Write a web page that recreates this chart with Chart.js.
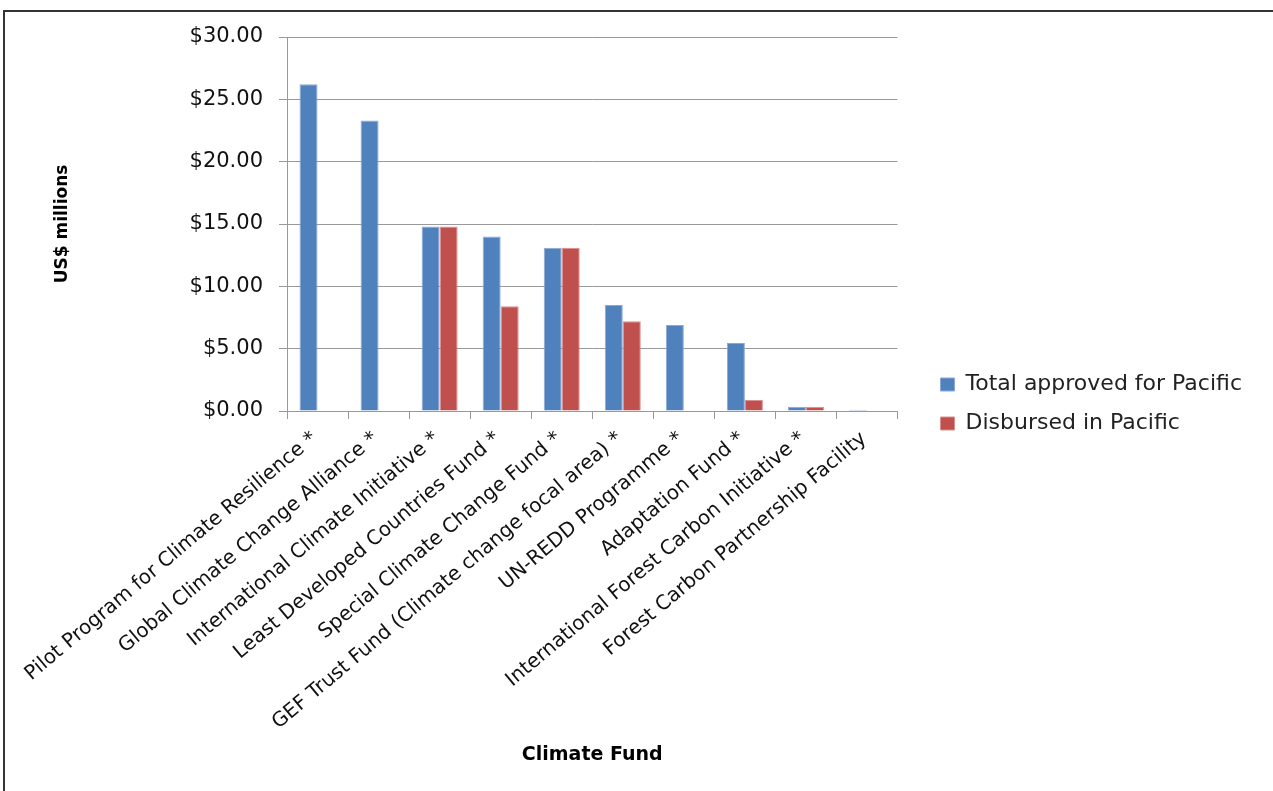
<!DOCTYPE html>
<html>
<head>
<meta charset="utf-8">
<script src="https://cdn.jsdelivr.net/npm/chart.js@4/dist/chart.umd.min.js"></script>
<style>
  html, body { margin: 0; padding: 0; background: #fff; }
  #wrap { position: relative; width: 1273px; height: 791px; overflow: hidden; }
  #frame { position: absolute; left: 3px; top: 10px; width: 1400px; height: 900px;
           border-left: 2px solid #333; border-top: 2px solid #333; box-sizing: border-box; }
  canvas { position: absolute; left: 0; top: 0; }
</style>
</head>
<body>
<div id="wrap">
  <div id="frame"></div>
  <canvas id="c" width="1273" height="791"></canvas>
</div>
<script>
const categories = [
  "Pilot Program for Climate Resilience *",
  "Global Climate Change Alliance *",
  "International Climate Initiative *",
  "Least Developed Countries Fund *",
  "Special Climate Change Fund *",
  "GEF Trust Fund (Climate change focal area) *",
  "UN-REDD Programme *",
  "Adaptation Fund *",
  "International Forest Carbon Initiative *",
  "Forest Carbon Partnership Facility"
];
const totalApproved = [26.2, 23.3, 14.8, 14.0, 13.1, 8.5, 6.9, 5.45, 0.35, 0.1];
const disbursed     = [0, 0, 14.8, 8.4, 13.1, 7.2, 0, 0.88, 0.35, 0];
const seriesNames = ["Total approved for Pacific", "Disbursed in Pacific"];
const yTicks = [0, 5, 10, 15, 20, 25, 30];

const FONT = "'DejaVu Sans', sans-serif";
const AXIS_LEFT = 287, AXIS_BOTTOM = 411, PAD_LEFT = 40, PAD_BOTTOM = 20;

new Chart(document.getElementById('c'), {
  type: 'bar',
  data: {
    labels: categories,
    datasets: [
      { label: seriesNames[0], data: totalApproved, backgroundColor: '#4F81BD',
        borderColor: '#8AA8D4', borderWidth: 1, borderSkipped: 'bottom',
        categoryPercentage: 0.59, barPercentage: 1 },
      { label: seriesNames[1], data: disbursed, backgroundColor: '#C0504D',
        borderColor: '#D9908E', borderWidth: 1, borderSkipped: 'bottom',
        categoryPercentage: 0.59, barPercentage: 1 }
    ]
  },
  options: {
    responsive: false,
    animation: false,
    layout: { padding: { left: PAD_LEFT, top: 37, right: 21, bottom: PAD_BOTTOM } },
    plugins: {
      tooltip: { enabled: false },
      legend: {
        position: 'right',
        maxWidth: 420,
        labels: {
          font: { family: FONT, size: 22 },
          color: '#222',
          boxWidth: 14, boxHeight: 13,
          padding: 17
        }
      }
    },
    scales: {
      x: {
        grid: { drawOnChartArea: false, drawTicks: true, tickLength: 8, color: '#999', offset: true },
        border: { color: '#999', width: 1 },
        ticks: {
          autoSkip: false, minRotation: 40, maxRotation: 40,
          font: { family: FONT, size: 20 }, color: '#111', padding: 8, labelOffset: -3
        },
        title: {
          display: true, text: 'Climate Fund',
          font: { family: FONT, size: 19, weight: 'bold' }, color: '#000',
          padding: { top: 0, bottom: 5 }
        },
        afterFit: (s) => { s.height = 791 - PAD_BOTTOM - AXIS_BOTTOM; }
      },
      y: {
        min: 0, max: 30,
        afterBuildTicks: (s) => { s.ticks = yTicks.map(v => ({ value: v })); },
        grid: { color: '#999', tickLength: 8, drawTicks: true },
        border: { color: '#999', width: 1 },
        ticks: {
          font: { family: FONT, size: 21 }, color: '#111', padding: 16,
          callback: (v) => '$' + Number(v).toFixed(2)
        },
        title: {
          display: true, text: 'US$ millions',
          font: { family: FONT, size: 17, weight: 'bold' }, color: '#000',
          padding: { top: 12, bottom: 0 }
        },
        afterFit: (s) => { s.width = AXIS_LEFT - PAD_LEFT; }
      },
      spacer: {
        type: 'linear', position: 'right', display: true,
        grid: { display: false, drawTicks: false }, border: { display: false },
        ticks: { display: false }, title: { display: false },
        afterFit: (s) => { s.width = 26; }
      }
    }
  }
});
</script>
</body>
</html>
